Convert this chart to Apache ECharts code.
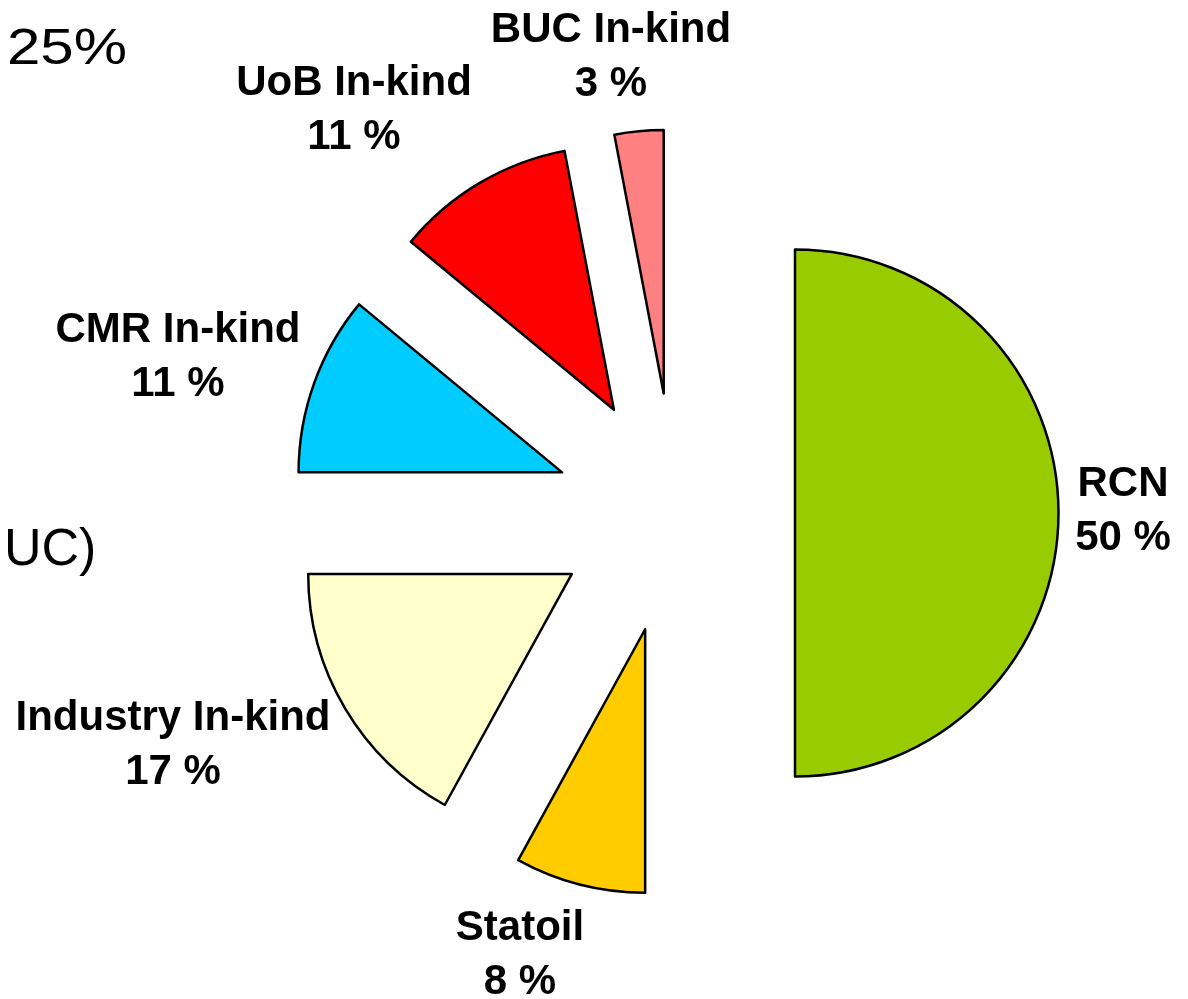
<!DOCTYPE html>
<html>
<head>
<meta charset="utf-8">
<script src="https://cdn.jsdelivr.net/npm/echarts@6/dist/echarts.min.js"></script>
<style>
  html, body { margin: 0; padding: 0; background: #fff; }
  #pie-chart { width: 1188px; height: 999px; }
</style>
</head>
<body>
<div id="pie-chart"></div>
<script>
// funding shares, clockwise from 12 o'clock
const names = ['RCN', 'Statoil', 'Industry In-kind', 'CMR In-kind', 'UoB In-kind', 'BUC In-kind'];
const shares = [50, 8, 17, 11, 11, 3];
const colors = ['#99cc00', '#ffcc00', '#ffffcc', '#00ccff', '#ff0000', '#ff8080'];

// label centres relative to the pie centre
const labelOffsets = [[448, -2], [-155, 442], [-502, 232], [-497, -156], [-321, -403], [-64, -456]];

const cx = 675, cy = 513;

const dom = document.getElementById('pie-chart');
const myChart = echarts.init(dom);

const sliceData = names.map(function (n, i) {
  return { name: n, value: shares[i], selected: true, itemStyle: { color: colors[i] } };
});
const labelData = names.map(function (n, i) {
  return { name: n, value: shares[i] };
});

const option = {
  animation: false,
  graphic: [
    // leftovers of neighbouring text cut off at the left edge
    { type: 'text', x: 7, y: 50, scaleX: 1.2, style: { text: '25%', fontSize: 50, fontFamily: 'Liberation Sans', fill: '#000', verticalAlign: 'middle' } },
    { type: 'text', x: 4, y: 551, style: { text: 'UC)', fontSize: 52, fontFamily: 'Liberation Sans', fill: '#000', verticalAlign: 'middle' } }
  ],
  series: [{
    type: 'pie',
    center: [cx, cy],
    radius: 263.5,
    startAngle: 90,
    clockwise: true,
    selectedMode: 'multiple',
    selectedOffset: 120,
    emphasis: { disabled: true },
    itemStyle: { borderColor: '#000', borderWidth: 2.5 },
    label: { show: false },
    labelLine: { show: false },
    data: sliceData
  }, {
    // invisible twin that only carries the labels
    type: 'pie',
    center: [cx, cy],
    radius: 263.5,
    startAngle: 90,
    clockwise: true,
    silent: true,
    avoidLabelOverlap: false,
    emphasis: { disabled: true },
    itemStyle: { color: 'rgba(0,0,0,0)', borderWidth: 0 },
    labelLine: { show: false },
    label: {
      show: true,
      position: 'outside',
      formatter: function (p) {
        return '{a|' + p.name + '}\n{a|' + Math.round(p.percent) + ' %}';
      },
      rich: {
        a: {
          fontFamily: 'Liberation Sans',
          fontWeight: 'bold',
          fontSize: 42,
          lineHeight: 54,
          color: '#000',
          align: 'center'
        }
      }
    },
    labelLayout: function (p) {
      const off = labelOffsets[p.dataIndex];
      return { x: cx + off[0], y: cy + off[1], align: 'center', verticalAlign: 'middle' };
    },
    data: labelData
  }]
};

myChart.setOption(option);
</script>
</body>
</html>
